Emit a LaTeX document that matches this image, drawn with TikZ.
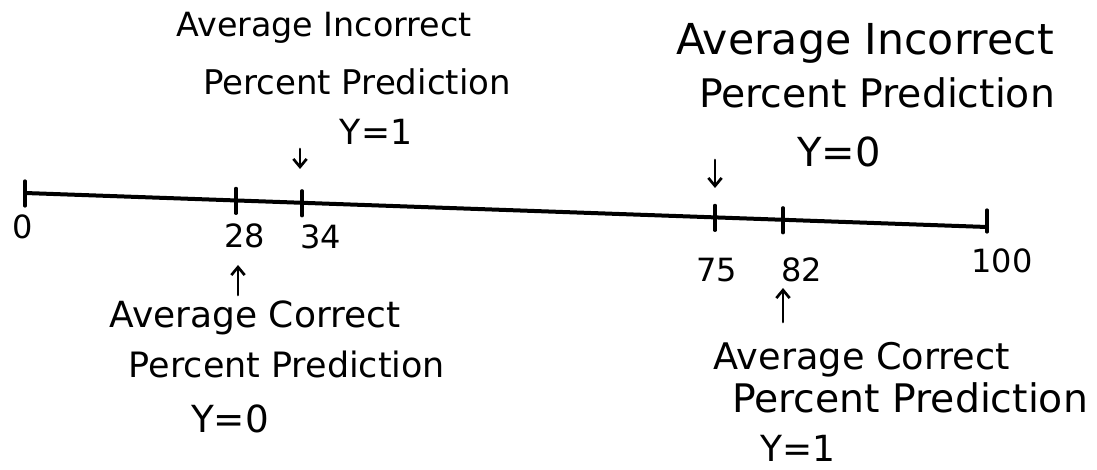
\documentclass[tikz,border=0pt]{standalone}
\usepackage{fontspec}
\setmainfont{DejaVu Sans}
\usetikzlibrary{arrows.meta}

\begin{document}
\begin{tikzpicture}[
    x=0.75pt, y=-0.75pt,
    >={Straight Barb[length=6pt, width=10pt]},
    line cap=round,
    axis/.style={line width=3pt},
    tick/.style={line width=2.4pt},
    pointer/.style={->, line width=2pt},
    handtext/.style={font=\fontsize{#1}{#1}\selectfont, inner sep=0pt, anchor=base},
    numtext/.style={font=\fontsize{24}{24}\selectfont, inner sep=0pt, anchor=base}
]
    \useasboundingbox (0,0) rectangle (1097,470);

    % Points on the scale
    \coordinate (t0) at (25,193);
    \coordinate (t28) at (236,200.4);
    \coordinate (t34) at (302,202.8);
    \coordinate (t75) at (715,217.4);
    \coordinate (t82) at (783,219.8);
    \coordinate (t100) at (987,227);

    % Scale line and ticks
    \draw[axis] (t0) -- (t100);
    \foreach \t in {t0, t28, t34, t75, t82} {
        \draw[tick] (\t) ++(0,-12) -- ++(0,25);
    }
    \draw[tick] (t100) ++(0,-17) -- ++(0,22);

    % Scale numbers
    \node[numtext] (n0) at (23,239) {0};
    \node[numtext] (n28) at (245,248) {28};
    \node[numtext] (n34) at (321,249) {34};
    \node[numtext] (n75) at (717,282) {75};
    \node[numtext] (n82) at (802,282) {82};
    \node[numtext] (n100) at (1002,273) {100};

    % Incorrect prediction, Y=1
    \node[handtext=25] (incOneA) at (324,37) {Average Incorrect};
    \node[handtext=25.5] (incOneB) at (357,95) {Percent Prediction};
    \node[handtext=26] (incOneC) at (376,145) {Y=1};

    % Incorrect prediction, Y=0
    \node[handtext=32] (incZeroA) at (865,55) {Average Incorrect};
    \node[handtext=29.5] (incZeroB) at (877,108) {Percent Prediction};
    \node[handtext=30] (incZeroC) at (839,167) {Y=0};

    % Correct prediction, Y=0
    \node[handtext=27] (corZeroA) at (255,328) {Average Correct};
    \node[handtext=26.2] (corZeroB) at (287,378) {Percent Prediction};
    \node[handtext=28] (corZeroC) at (230,433) {Y=0};

    % Correct prediction, Y=1
    \node[handtext=27.5] (corOneA) at (862,370) {Average Correct};
    \node[handtext=29.5] (corOneB) at (910,413) {Percent Prediction};
    \node[handtext=27] (corOneC) at (798,461) {Y=1};

    % Pointers
    \coordinate (p34a) at (300,149);
    \coordinate (p34b) at (300,169);
    \coordinate (p75a) at (715,160);
    \coordinate (p75b) at (715,188);
    \coordinate (p28a) at (238,295);
    \coordinate (p28b) at (238,265);
    \coordinate (p82a) at (783,322);
    \coordinate (p82b) at (783,288);
    \draw[pointer] (p34a) -- (p34b);
    \draw[pointer] (p75a) -- (p75b);
    \draw[pointer] (p28a) -- (p28b);
    \draw[pointer] (p82a) -- (p82b);

\end{tikzpicture}
\end{document}
